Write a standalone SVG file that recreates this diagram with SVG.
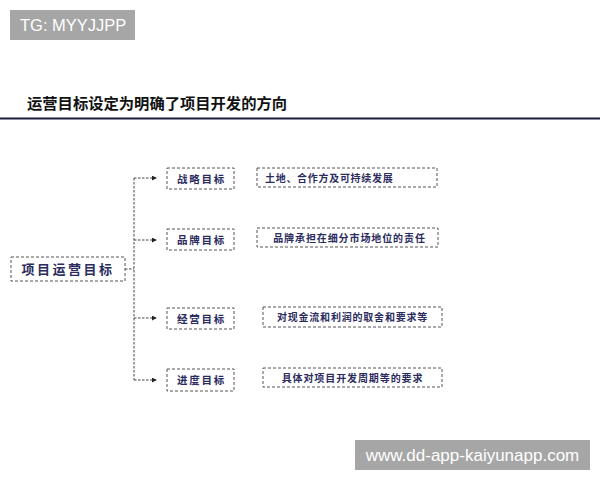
<svg xmlns="http://www.w3.org/2000/svg" width="600" height="480" viewBox="0 0 600 480">
<defs>
<style>
.box{fill:#fff;stroke:#555;stroke-width:1;stroke-dasharray:3,2}
.t{font-family:"Noto Sans CJK SC","Liberation Sans",sans-serif;font-weight:bold;fill:#2b2b5e}
.c{fill:none;stroke:#444;stroke-width:1;stroke-dasharray:2.5,1.5}
.wm{fill:#a6a6a6}
.wmt{font-family:"Liberation Sans",Arial,sans-serif;fill:#fff}
</style>
<marker id="ah" viewBox="0 0 6 6" refX="5" refY="3" markerWidth="5" markerHeight="5" orient="auto" markerUnits="userSpaceOnUse">
<path d="M0,0 L6,3 L0,6 z" fill="#222"/>
</marker>
</defs>
<rect width="600" height="480" fill="#fff"/>
<g id="wm-top"><rect class="wm" x="10" y="10" width="125" height="30"/><text class="wmt" x="20" y="31" font-size="16.5">TG: MYYJJPP</text></g>
<g id="title"><text class="t" x="27" y="109" font-size="15.3" style="fill:#111">运营目标设定为明确了项目开发的方向</text>
<line x1="0" y1="118.5" x2="600" y2="118.5" stroke="#1c1c3c" stroke-width="2"/></g>
<g id="connectors">
<path class="c" d="M125,269 H134 M134,178 V380"/>
<path class="c" d="M134,178 H156" marker-end="url(#ah)"/>
<path class="c" d="M134,240 H156" marker-end="url(#ah)"/>
<path class="c" d="M134,318 H156" marker-end="url(#ah)"/>
<path class="c" d="M134,380 H156" marker-end="url(#ah)"/>
</g>
<g id="root"><rect class="box" x="11" y="257" width="114" height="24"/><text class="t" x="68" y="274" font-size="13" text-anchor="middle" letter-spacing="2.5">项目运营目标</text></g>
<g id="n1"><rect class="box" x="167" y="168" width="67" height="21"/><text class="t" x="201.5" y="182.5" font-size="10.5" text-anchor="middle" letter-spacing="1.8">战略目标</text></g>
<g id="n2"><rect class="box" x="167" y="229" width="67" height="21"/><text class="t" x="201.5" y="243.5" font-size="10.5" text-anchor="middle" letter-spacing="1.8">品牌目标</text></g>
<g id="n3"><rect class="box" x="167" y="308" width="67" height="21"/><text class="t" x="201.5" y="322.5" font-size="10.5" text-anchor="middle" letter-spacing="1.8">经营目标</text></g>
<g id="n4"><rect class="box" x="167" y="369" width="67" height="22"/><text class="t" x="201.5" y="384" font-size="10.5" text-anchor="middle" letter-spacing="1.8">进度目标</text></g>
<g id="d1"><rect class="box" x="257" y="168" width="180" height="19"/><text class="t" x="265" y="181.5" font-size="10" letter-spacing="0.7">土地、合作方及可持续发展</text></g>
<g id="d2"><rect class="box" x="257" y="228" width="181" height="19"/><text class="t" x="349.5" y="241.5" font-size="10" text-anchor="middle" letter-spacing="0.9">品牌承担在细分市场地位的责任</text></g>
<g id="d3"><rect class="box" x="263" y="307" width="179" height="20"/><text class="t" x="352.5" y="321" font-size="10" text-anchor="middle" letter-spacing="0.8">对现金流和利润的取舍和要求等</text></g>
<g id="d4"><rect class="box" x="263" y="368" width="179" height="19"/><text class="t" x="352.5" y="381.5" font-size="10" text-anchor="middle" letter-spacing="0.9">具体对项目开发周期等的要求</text></g>
<g id="wm-bottom"><rect class="wm" x="355" y="440" width="235" height="30"/><text class="wmt" x="472.5" y="461" font-size="17" text-anchor="middle">www.dd-app-kaiyunapp.com</text></g>
</svg>
